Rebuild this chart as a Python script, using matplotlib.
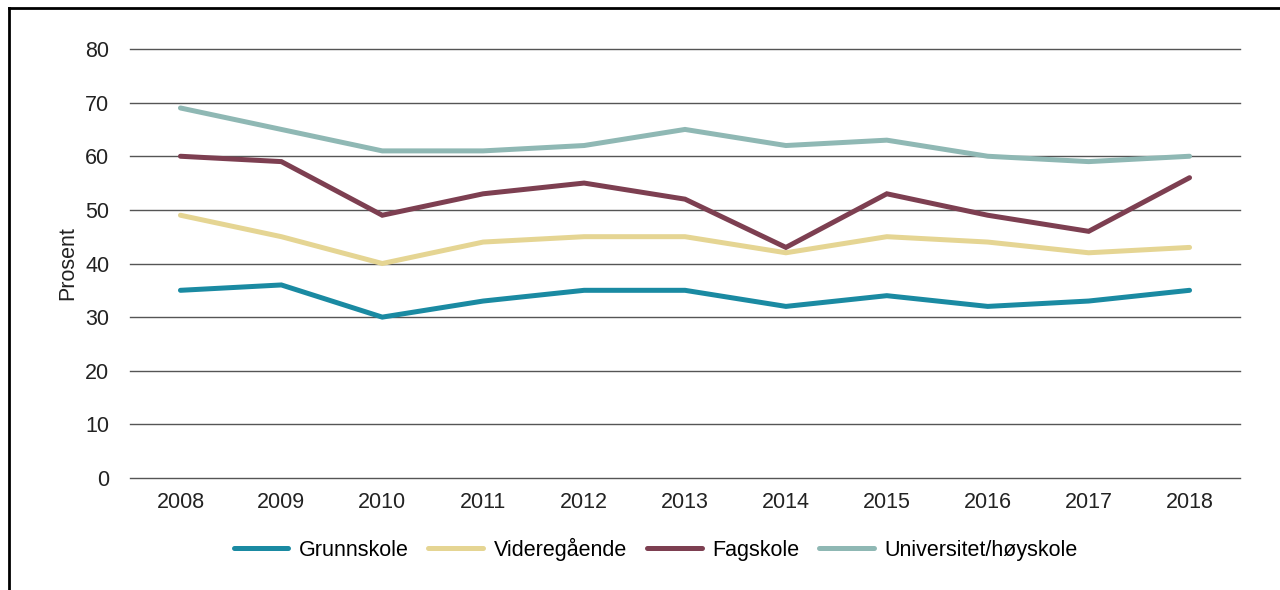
import matplotlib
matplotlib.use("Agg")
import matplotlib.pyplot as plt
from matplotlib.lines import Line2D

plt.rcParams['font.family'] = ['Liberation Sans', 'DejaVu Sans']

years = [2008, 2009, 2010, 2011, 2012, 2013, 2014, 2015, 2016, 2017, 2018]
grunnskole = [35, 36, 30, 33, 35, 35, 32, 34, 32, 33, 35]
videregaende = [49, 45, 40, 44, 45, 45, 42, 45, 44, 42, 43]
fagskole = [60, 59, 49, 53, 55, 52, 43, 53, 49, 46, 56]
universitet = [69, 65, 61, 61, 62, 65, 62, 63, 60, 59, 60]

series = [
    ("Grunnskole", grunnskole, "#1a8aa2"),
    ("Videregående", videregaende, "#e5d593"),
    ("Fagskole", fagskole, "#7d3f51"),
    ("Universitet/høyskole", universitet, "#8fb8b4"),
]

fs = 15.5
fig = plt.figure(figsize=(12.8, 5.9), dpi=100)
ax = fig.add_axes([130 / 1280, 1 - 478 / 590, 1110 / 1280, 429 / 590])

for name, vals, col in series:
    ax.plot(years, vals, color=col, lw=3.6, label=name,
            solid_capstyle="round", solid_joinstyle="miter")

ax.set_xlim(2007.5, 2018.5)
ax.set_ylim(0, 80)
ax.set_yticks(range(0, 81, 10))
ax.set_xticks(years)
ax.grid(axis="y", color="#555555", lw=1)
for gl in ax.get_ygridlines():
    gl.set_clip_on(False)
ax.set_axisbelow(True)
for s in ax.spines.values():
    s.set_visible(False)
ax.tick_params(length=0, labelsize=fs, colors="#222222")
ax.tick_params(axis="y", pad=15)
ax.tick_params(axis="x", pad=10)
ax.set_ylabel("Prosent", fontsize=fs, color="#222222", labelpad=5)

fig.legend(loc="center", bbox_to_anchor=(0.512, 1 - 549 / 590), ncol=4,
           frameon=False, fontsize=fs, handlelength=2.55, handletextpad=0.47,
           columnspacing=0.93)

# frame around the figure (left and top)
fig.add_artist(Line2D([8.5 / 1280, 8.5 / 1280], [0, 1 - 7.5 / 590],
                      transform=fig.transFigure, color="black", lw=2))
fig.add_artist(Line2D([8.5 / 1280, 1], [1 - 7.5 / 590, 1 - 7.5 / 590],
                      transform=fig.transFigure, color="black", lw=2))

fig.savefig("out.png", dpi=100)
